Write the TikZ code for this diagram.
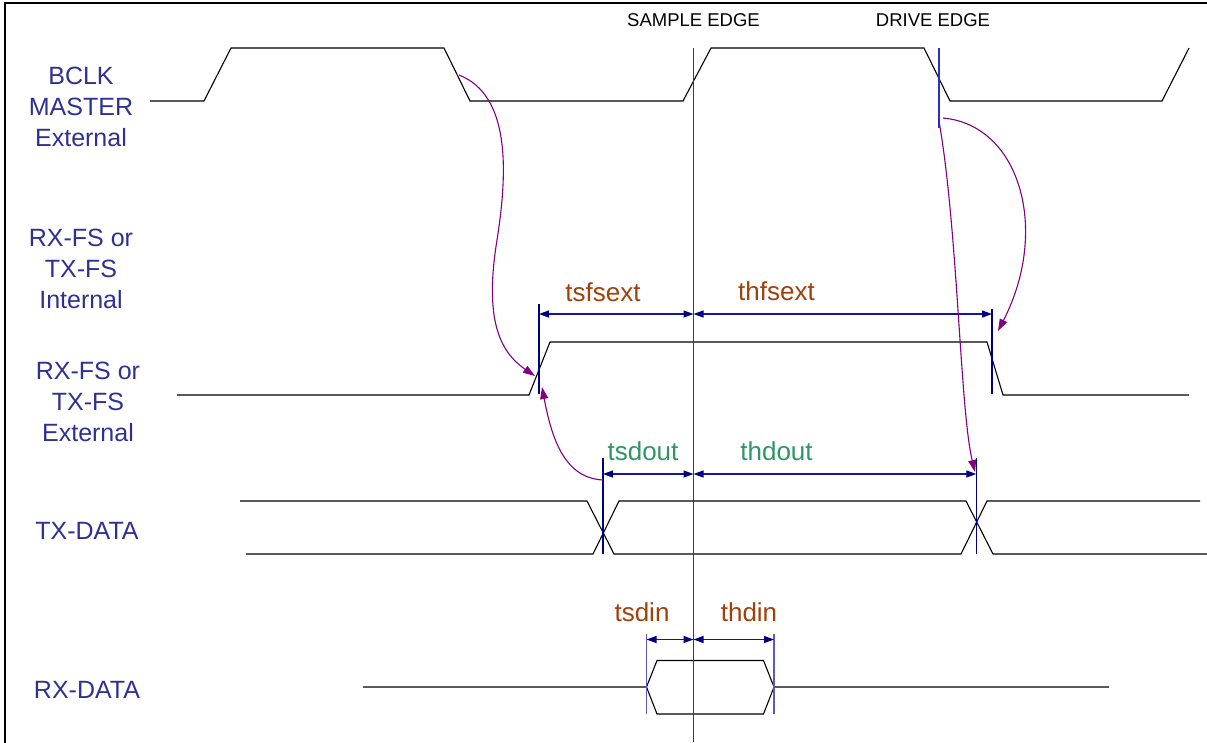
\documentclass[tikz,border=0pt]{standalone}
\usepackage{fontspec}
\setmainfont{Liberation Sans}
\usetikzlibrary{arrows.meta}
\definecolor{lblblue}{RGB}{46,49,146}
\definecolor{dimblue}{RGB}{20,20,160}
\definecolor{headblue}{RGB}{0,0,130}
\definecolor{edgeblue}{RGB}{45,45,200}
\definecolor{paleblue}{RGB}{90,90,200}
\definecolor{tbrown}{RGB}{160,64,10}
\definecolor{tgreen}{RGB}{46,150,100}
\definecolor{causepurple}{RGB}{128,0,128}
\tikzset{
  sig/.style={line width=1.1pt, black},
  siglabel/.style={text=lblblue, font=\fontsize{25}{31}\selectfont, align=center, inner sep=0pt},
  edgelabel/.style={font=\fontsize{18.5}{20}\selectfont, inner sep=0pt},
  tlabel/.style={font=\fontsize{26}{30}\selectfont, inner sep=0pt},
  marker/.style={draw=headblue, line width=1.2pt},
  edgeline/.style={draw=edgeblue, line width=1.5pt},
  dim/.style={draw=dimblue, line width=1.2pt, {Triangle[length=10pt,width=7pt,color=headblue]}-{Triangle[length=10pt,width=7pt,color=headblue]}},
  causearrow/.style={draw=causepurple, line width=1.1pt, -{Triangle[length=12pt,width=8pt,color=causepurple]}}
}
\begin{document}
\begin{tikzpicture}[x=1pt,y=-1pt]
  %%%%% START %%%%%
  \def\xs{693.5}
  \def\xd{939}
  \def\ck{101}
  \def\ckh{48}
  \def\fs{395}
  \def\fsh{342}
  \def\tx{554}
  \def\txh{501}
  \def\rx{687}
  \def\rxh{660.5}
  \def\rxl{714}

  \useasboundingbox (0,0) rectangle (1207,742);
  \clip (0,0) rectangle (1207,742);
  \draw[line width=1.6pt] (5,3) rectangle (1230,760);

  \node[siglabel] (bclk) at (81,107) {BCLK\\MASTER\\External};
  \node[siglabel] (fsint) at (81,269) {RX-FS or\\TX-FS\\Internal};
  \node[siglabel] (fsext) at (88,402) {RX-FS or\\TX-FS\\External};
  \node[siglabel] (txdata) at (87,531) {TX-DATA};
  \node[siglabel] (rxdata) at (87,690) {RX-DATA};

  \node[edgelabel] (sample) at (\xs,20) {SAMPLE EDGE};
  \node[edgelabel] (drive) at (933,20) {DRIVE EDGE};

  \draw[sig] (150,\ck) -- (204,\ck) -- (231,\ckh) -- (444,\ckh) -- (470,\ck) -- (683,\ck) -- (711,\ckh) -- (924,\ckh) -- (950,\ck) -- (1162,\ck) -- (1189,\ckh);
  \draw[sig] (177,\fs) -- (529,\fs) -- (550,\fsh) -- (987,\fsh) -- (1003,\fs) -- (1189,\fs);
  \draw[sig] (240,\txh) -- (587,\txh) -- (614,\tx) -- (961,\tx) -- (987,\txh) -- (1200,\txh);
  \draw[sig] (246,\tx) -- (593,\tx) -- (619,\txh) -- (966,\txh) -- (993,\tx) -- (1207,\tx);
  \draw[sig] (363,\rx) -- (646.5,\rx) -- (657,\rxh) -- (763.5,\rxh) -- (774,\rx) -- (1109,\rx);
  \draw[sig] (646.5,\rx) -- (657,\rxl) -- (763.5,\rxl) -- (774,\rx);

  \draw[edgeline] (\xs,\ckh) -- (\xs,742);
  \draw[edgeline] (\xd,\ckh) -- (\xd,128);
  \draw[marker] (539,304) -- (539,394);
  \draw[marker] (992,309) -- (992,394);
  \draw[marker] (603,458) -- (603,554);
  \draw[marker] (976.3,458) -- (976.3,554);
  \draw[marker, draw=paleblue] (646.5,634) -- (646.5,714);
  \draw[marker, draw=paleblue] (774,634) -- (774,714);

  \coordinate (fsA) at (539,314);
  \coordinate (fsS) at (\xs,314);
  \coordinate (fsB) at (992,314);
  \coordinate (txA) at (603,474);
  \coordinate (txS) at (\xs,474);
  \coordinate (txB) at (976.3,474);
  \coordinate (rxA) at (646.5,639.5);
  \coordinate (rxS) at (\xs,639.5);
  \coordinate (rxB) at (774,639.5);

  \draw[dim] (fsA) -- (fsS);
  \draw[dim] (fsS) -- (fsB);
  \draw[dim] (txA) -- (txS);
  \draw[dim] (txS) -- (txB);
  \draw[dim] (rxA) -- (rxS);
  \draw[dim] (rxS) -- (rxB);

  \node[tlabel, text=tbrown] (tsfsext) at (603,292) {tsfsext};
  \node[tlabel, text=tbrown] (thfsext) at (776.5,291) {thfsext};
  \node[tlabel, text=tgreen] (tsdout) at (643,451) {tsdout};
  \node[tlabel, text=tgreen] (thdout) at (776.5,451) {thdout};
  \node[tlabel, text=tbrown] (tsdin) at (642,612) {tsdin};
  \node[tlabel, text=tbrown] (thdin) at (749,612) {thdin};

  \coordinate (ckfall) at (459,75);
  \coordinate (fsrise) at (535,376);
  \coordinate (txcross) at (603,480);
  \coordinate (fsfoot) at (542,387);
  \coordinate (drvA) at (943,118);
  \coordinate (fsfall) at (998,331);
  \coordinate (drvB) at (939,121);
  \coordinate (txnext) at (975,472);

  \draw[causearrow] (ckfall) .. controls (510,95) and (508,170) .. (497,240) .. controls (484,320) and (500,352) .. (fsrise);
  \draw[causearrow] (txcross) .. controls (565,478) and (552,440) .. (fsfoot);
  \draw[causearrow] (drvA) .. controls (1020,125) and (1050,230) .. (fsfall);
  \draw[causearrow] (drvB) .. controls (958,230) and (960,410) .. (txnext);
  %%%%% END %%%%%
\end{tikzpicture}
\end{document}
